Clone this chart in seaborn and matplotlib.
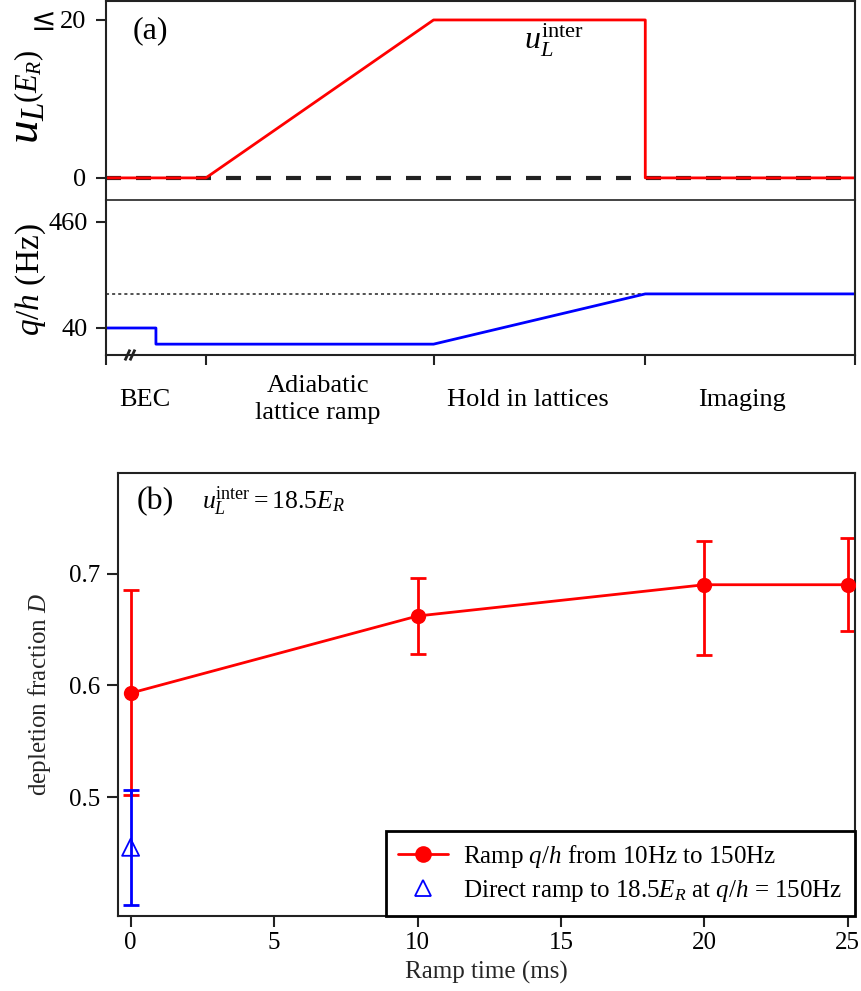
import numpy as np
import pandas as pd
import matplotlib
matplotlib.use("Agg")
import matplotlib.pyplot as plt
from matplotlib.lines import Line2D
import seaborn as sns

# ---- (a) experimental sequence (schematic time units) ----
stage_edges = [0.0, 1.0, 3.28, 5.40, 7.50]
stage_names = ["BEC", "Adiabatic\nlattice ramp", "Hold in lattices", "Imaging"]
stage_label_x = [0.39, 2.12, 4.22, 6.37]

lattice_t = [0.0, 1.0, 3.28, 5.40, 5.40, 7.50]
lattice_u = [0, 0, 20, 20, 0, 0]          # u_L in E_R

zeeman_t = [0.0, 0.5, 0.5, 3.28, 5.40, 7.50]
zeeman_q = [40, 40, -24, -24, 175, 175]   # q/h in Hz (axis units)
zeeman_final = 175

# ---- (b) depletion fraction vs ramp time ----
ramp_time = [0, 10, 20, 25]
D_ramp = [0.593, 0.662, 0.690, 0.690]
D_ramp_lo = [0.502, 0.628, 0.627, 0.6485]
D_ramp_hi = [0.685, 0.696, 0.729, 0.7316]

direct_time = [0]
D_direct = [0.455]
D_direct_lo = [0.403]
D_direct_hi = [0.506]

sns.set_theme(style="ticks")
plt.rcParams.update({
    "font.family": ["Liberation Serif", "DejaVu Serif"],
    "mathtext.fontset": "custom",
    "mathtext.rm": "Liberation Serif",
    "mathtext.it": "Liberation Serif:italic",
    "mathtext.bf": "Liberation Serif:bold",
    "axes.edgecolor": "#222222",
    "axes.linewidth": 1.5,
    "xtick.major.width": 1.5,
    "ytick.major.width": 1.5,
    "xtick.major.size": 7,
    "ytick.major.size": 7,
    "xtick.color": "#222222",
    "ytick.color": "#222222",
    "xtick.labelcolor": "black",
    "ytick.labelcolor": "black",
    "text.color": "black",
})

W, H = 861, 991
fig = plt.figure(figsize=(W / 100, H / 100), dpi=100)


def box(l, t, r, b):
    return [l / W, 1 - b / H, (r - l) / W, (b - t) / H]


def fig_pt(x, y):
    return x / W, 1 - y / H


ax_u = fig.add_axes(box(106, 1, 855, 200))
ax_q = fig.add_axes(box(106, 200, 855, 355))
ax_b = fig.add_axes(box(118, 473, 855, 916))

# --- u_L panel ---
sns.lineplot(x=lattice_t, y=[0] * len(lattice_t), ax=ax_u, color="#222222",
             lw=3, estimator=None, sort=False)
ax_u.lines[-1].set_dashes((3.6, 3.6))
sns.lineplot(x=lattice_t, y=lattice_u, ax=ax_u, color="#ff0000", lw=2,
             estimator=None, sort=False)
ax_u.set_xlim(stage_edges[0], stage_edges[-1])
ax_u.set_ylim(-2.8, 22.4)
ax_u.set_yticks([0, 20])
ax_u.set_yticklabels(["0", "20"], fontsize=19)
ax_u.tick_params(axis="y", pad=7)
ax_u.set_xticks([])
ax_u.spines["bottom"].set_visible(False)
ax_u.set_ylabel("")
fig.text(*fig_pt(43, 21), "≤", fontsize=22, family=["DejaVu Serif"],
         ha="center", va="center")
fig.text(*fig_pt(27, 123), r"$u_L$", fontsize=34, rotation=90,
         ha="center", va="center")
fig.text(*fig_pt(29, 76), r"$(E_R)$", fontsize=22, rotation=90,
         ha="center", va="center")
ax_u.text(0.059, 0.85, "(a)", transform=ax_u.transAxes, fontsize=23,
          ha="center", va="center")
ax_u.text(4.49, 17.4, r"$u_L^{\mathrm{inter}}$", fontsize=23,
          ha="center", va="center")

# --- q/h panel ---
ax_q.axhline(zeeman_final, color="#222222", lw=1.1, dashes=(2, 2))
sns.lineplot(x=zeeman_t, y=zeeman_q, ax=ax_q, color="#0000ff", lw=2,
             estimator=None, sort=False)
ax_q.set_xlim(stage_edges[0], stage_edges[-1])
ax_q.set_ylim(-67, 547)
ax_q.set_yticks([40, 460])
ax_q.set_yticklabels(["40", "460"], fontsize=19)
ax_q.tick_params(axis="y", pad=6)
ax_q.set_xticks(stage_edges)
ax_q.set_xticklabels([])
ax_q.tick_params(axis="x", length=7)
ax_q.spines["top"].set_linewidth(1.2)
ax_q.set_ylabel("")
fig.text(*fig_pt(31, 280), r"$q/h$ (Hz)", fontsize=24, rotation=90,
         ha="center", va="center")

# axis-break marks on the time axis
xb = ax_q.get_xaxis_transform()
for x0 in (0.19, 0.24):
    ax_q.plot([x0, x0 + 0.05], [-0.035, 0.035], transform=xb, color="#222222",
              lw=2, clip_on=False, solid_capstyle="butt")

for name, xc in zip(stage_names, stage_label_x):
    ax_q.text(xc, -0.29, name, transform=xb,
              fontsize=19, ha="center", va="center", linespacing=1.3)

# --- (b) depletion fraction ---
red_err = [np.subtract(D_ramp, D_ramp_lo), np.subtract(D_ramp_hi, D_ramp)]
ax_b.errorbar(ramp_time, D_ramp, yerr=red_err, fmt="none", ecolor="#ff0000",
              elinewidth=2, capsize=6, capthick=2, zorder=2)
sns.lineplot(x=ramp_time, y=D_ramp, ax=ax_b, color="#ff0000", lw=2,
             marker="o", markersize=11, markeredgewidth=0, zorder=3)

blue_err = [np.subtract(D_direct, D_direct_lo), np.subtract(D_direct_hi, D_direct)]
ax_b.errorbar(direct_time, D_direct, yerr=blue_err, fmt="none", ecolor="#0000ff",
              elinewidth=2, capsize=6, capthick=2, zorder=4)
sns.scatterplot(x=direct_time, y=D_direct, ax=ax_b, marker="^", s=150,
                facecolors="none", edgecolor="#0000ff", linewidth=1.3, zorder=5)

ax_b.set_xlim(-0.44, 25.25)
ax_b.set_ylim(0.3935, 0.790)
ax_b.set_xticks([0, 5, 10, 15, 20, 25])
ax_b.set_yticks([0.5, 0.6, 0.7])
ax_b.set_yticklabels(["0.5", "0.6", "0.7"])
ax_b.tick_params(labelsize=18, length=8)
ax_b.tick_params(axis="y", pad=5)
ax_b.set_xlabel("Ramp time (ms)", fontsize=18, labelpad=5)
ax_b.set_ylabel(r"depletion fraction $D$", fontsize=18, labelpad=11)
for s in ax_b.spines.values():
    s.set_visible(True)
ax_b.text(0.05, 0.935, "(b)", transform=ax_b.transAxes, fontsize=23,
          ha="center", va="center")
ax_b.text(0.114, 0.935, r"$u_L^{\mathrm{inter}} = 18.5E_R$", transform=ax_b.transAxes,
          fontsize=18.5, ha="left", va="center")

handles = [
    Line2D([], [], color="#ff0000", lw=2, marker="o", markersize=12,
           markeredgewidth=0),
    Line2D([], [], color="none", marker="^", markersize=12,
           markerfacecolor="none", markeredgecolor="#0000ff", markeredgewidth=1.3),
]
labels = [r"Ramp $q/h$ from 10Hz to 150Hz",
          r"Direct ramp to 18.5$E_R$ at $q/h$ = 150Hz"]
leg = ax_b.legend(handles, labels, loc="lower right", fontsize=18,
                  frameon=True, fancybox=False, edgecolor="black",
                  borderaxespad=0, handlelength=2.0, handletextpad=0.6,
                  borderpad=0.5, labelspacing=0.3)
leg.get_frame().set_linewidth(2)
leg.get_frame().set_alpha(1)

fig.savefig("out.png", dpi=100)
